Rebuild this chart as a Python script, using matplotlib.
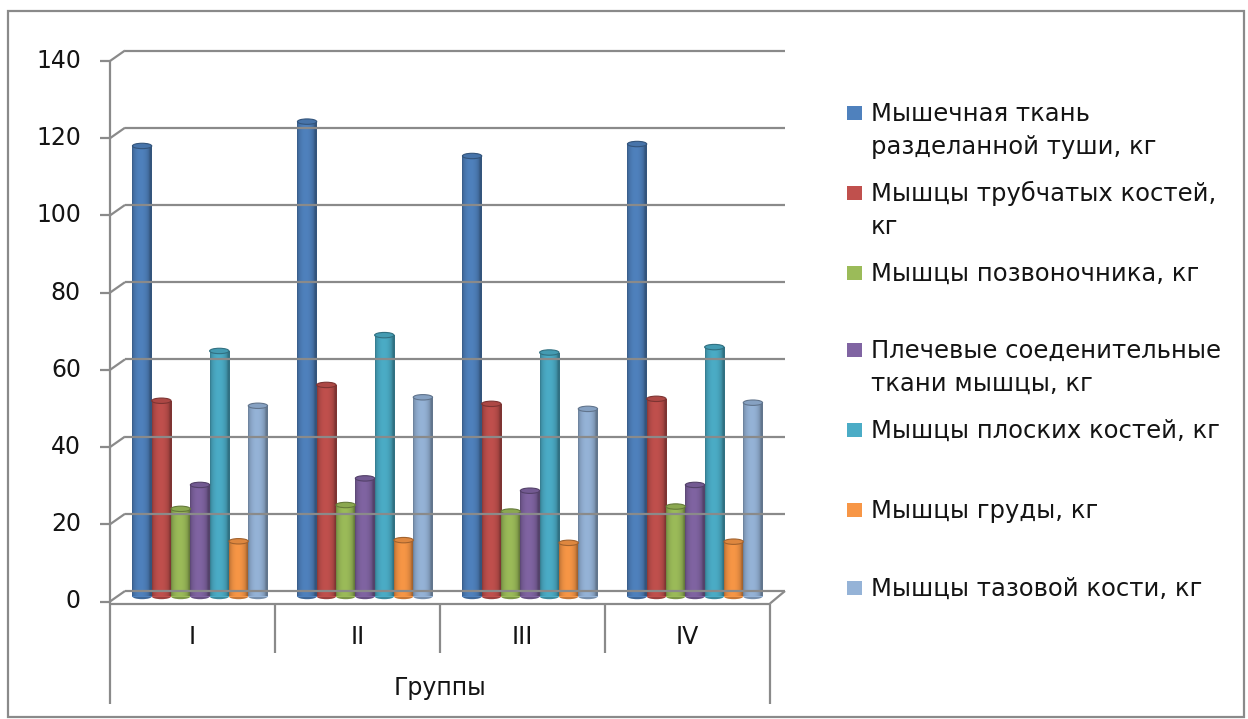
import numpy as np
import matplotlib
matplotlib.use("Agg")
import matplotlib.pyplot as plt
from matplotlib.patches import Rectangle, Ellipse
from matplotlib.lines import Line2D
from matplotlib.colors import to_rgb
import matplotlib.transforms as mtransforms

# ---- data -------------------------------------------------------------
groups = ["I", "II", "III", "IV"]
series_labels = [
    "Мышечная ткань\nразделанной туши, кг",
    "Мышцы трубчатых костей,\nкг",
    "Мышцы позвоночника, кг",
    "Плечевые соеденительные\nткани мышцы, кг",
    "Мышцы плоских костей, кг",
    "Мышцы груды, кг",
    "Мышцы тазовой кости, кг",
]
muscle_carcass = [116.7, 123.0, 114.1, 117.2]
tubular_bones = [50.7, 54.8, 49.9, 51.2]
spine = [22.7, 23.7, 22.0, 23.3]
shoulder_tissue = [28.9, 30.6, 27.4, 28.9]
flat_bones = [63.6, 67.7, 63.2, 64.6]
chest = [14.3, 14.6, 13.9, 14.2]
pelvis = [49.4, 51.6, 48.6, 50.2]
series_values = [muscle_carcass, tubular_bones, spine, shoulder_tissue,
                 flat_bones, chest, pelvis]
colors = ["#4F81BD", "#C0504D", "#9BBB59", "#8064A2",
          "#4BACC6", "#F79646", "#95B3D7"]
y_ticks = [0, 20, 40, 60, 80, 100, 120, 140]
x_title = "Группы"

# ---- figure -----------------------------------------------------------
W, H = 1248, 719
fig = plt.figure(figsize=(W / 100, H / 100), dpi=100)
fig.patch.set_facecolor("white")
plt.rcParams["font.family"] = ["DejaVu Sans"]
TXT = "#141414"
FS_AX = 17
FS_LEG = 17.5

# axes = mid-depth plane of the pseudo-3D plot
ax = fig.add_axes([117.5 / W, (H - 596.5) / H, 660 / W, 540.5 / H])
ax.set_xlim(-0.5, len(groups) - 0.5)
ax.set_ylim(0, 140)
ax.axis("off")

IDT = mtransforms.IdentityTransform()
GRAY = "#8a8a8a"
FRONT = (-7.5, -5.0)
BACK = (7.5, 5.5)


def px(x, v, off=(0, 0)):
    X, Y = ax.transData.transform((x, v))
    return X + off[0], Y + off[1]


def dline(p0, p1, lw=1.6, color=GRAY, z=1):
    fig.add_artist(Line2D([p0[0], p1[0]], [p0[1], p1[1]], transform=IDT,
                          color=color, lw=lw, zorder=z,
                          solid_capstyle="butt"))


def top_px(y_from_top):
    return H - y_from_top


# outer chart border
fig.add_artist(Rectangle((8, top_px(717)), 1236, 706, transform=IDT,
                         fill=False, edgecolor=GRAY, lw=1.6, zorder=0))

x_lo, x_hi = -0.5, len(groups) - 0.5

# back-wall gridlines with the slanted stubs to the front axis
for v in y_ticks:
    dline(px(x_lo, v, BACK), px(x_hi, v, BACK))
    dline(px(x_lo, v, FRONT), px(x_lo, v, BACK))
    # tick mark on the front value axis
    p = px(x_lo, v, FRONT)
    dline((p[0] - 10, p[1]), p)
    ax.text(p[0] - 29, p[1], str(v), transform=IDT, ha="right",
            va="center", fontsize=FS_AX, color=TXT)

# front value axis
top = px(x_lo, 140, FRONT)
floor_left = px(x_lo, 0, (FRONT[0], FRONT[1] - 2))
dline(top, (floor_left[0], floor_left[1] - 100))

# floor edges
floor_right = px(x_hi, 0, (FRONT[0], FRONT[1] - 2))
dline(floor_left, floor_right)
dline(floor_right, px(x_hi, 0, BACK))
dline((floor_right[0], floor_right[1]), (floor_right[0], floor_right[1] - 100))

# category separators and labels
for k in range(1, len(groups)):
    p = px(k - 0.5, 0, (FRONT[0], FRONT[1] - 2))
    dline(p, (p[0], p[1] - 49))
for i, g in enumerate(groups):
    p = px(i, 0, (FRONT[0], FRONT[1] - 2))
    ax.text(p[0], p[1] - 34, g, transform=IDT, ha="center", va="center",
            fontsize=FS_AX, color=TXT)
p = px((x_lo + x_hi) / 2, 0, (FRONT[0], FRONT[1] - 2))
ax.text(p[0], p[1] - 85, x_title, transform=IDT, ha="center", va="center",
        fontsize=FS_AX, color=TXT)

# ---- cylinder columns --------------------------------------------------
n_series = len(series_values)
bar_w = 0.117
t = np.linspace(0, 1, 64)
shade = 0.66 + 0.34 * np.sin(np.pi * np.clip(t * 1.12, 0, 1)) ** 0.45
cap_h = 1.4  # ellipse height in value units

for s, (vals, col) in enumerate(zip(series_values, colors)):
    base = np.array(to_rgb(col))
    grad = np.clip(base[None, :] * shade[:, None], 0, 1)[None, :, :]
    offs = (s - (n_series - 1) / 2) * bar_w
    xs = np.arange(len(groups)) + offs
    bars = ax.bar(xs, vals, width=bar_w, color=col, edgecolor="none",
                  zorder=3)
    for rect, v in zip(bars, vals):
        x0 = rect.get_x()
        x1 = x0 + rect.get_width()
        xc = (x0 + x1) / 2
        # rounded bottom
        ax.add_patch(Ellipse((xc, 0), bar_w, cap_h,
                             facecolor=tuple(base * 0.8), edgecolor="none",
                             zorder=2.9, clip_on=False))
        im = ax.imshow(grad, extent=(x0, x1, 0, v), aspect="auto",
                       interpolation="bilinear", zorder=3.1)
        im.set_clip_path(rect)
        # top cap
        ax.add_patch(Ellipse((xc, v), bar_w, cap_h,
                             facecolor=tuple(np.clip(base * 0.9, 0, 1)),
                             edgecolor=tuple(base * 0.65), lw=0.8,
                             zorder=3.2, clip_on=False))

ax.set_xlim(x_lo, x_hi)
ax.set_ylim(0, 140)

# ---- legend ------------------------------------------------------------
legend_rows = [113, 193, 273, 350, 430, 510, 588]
line_step = 33
for label, col, yc in zip(series_labels, colors, legend_rows):
    fig.add_artist(Rectangle((847, top_px(yc) - 7), 15, 14, transform=IDT,
                             facecolor=col, edgecolor="none", zorder=4))
    for j, line in enumerate(label.split("\n")):
        ax.text(871, top_px(yc + j * line_step) - 8, line, transform=IDT,
                ha="left", va="baseline", fontsize=FS_LEG, color=TXT)

fig.savefig("out.png", dpi=100)
